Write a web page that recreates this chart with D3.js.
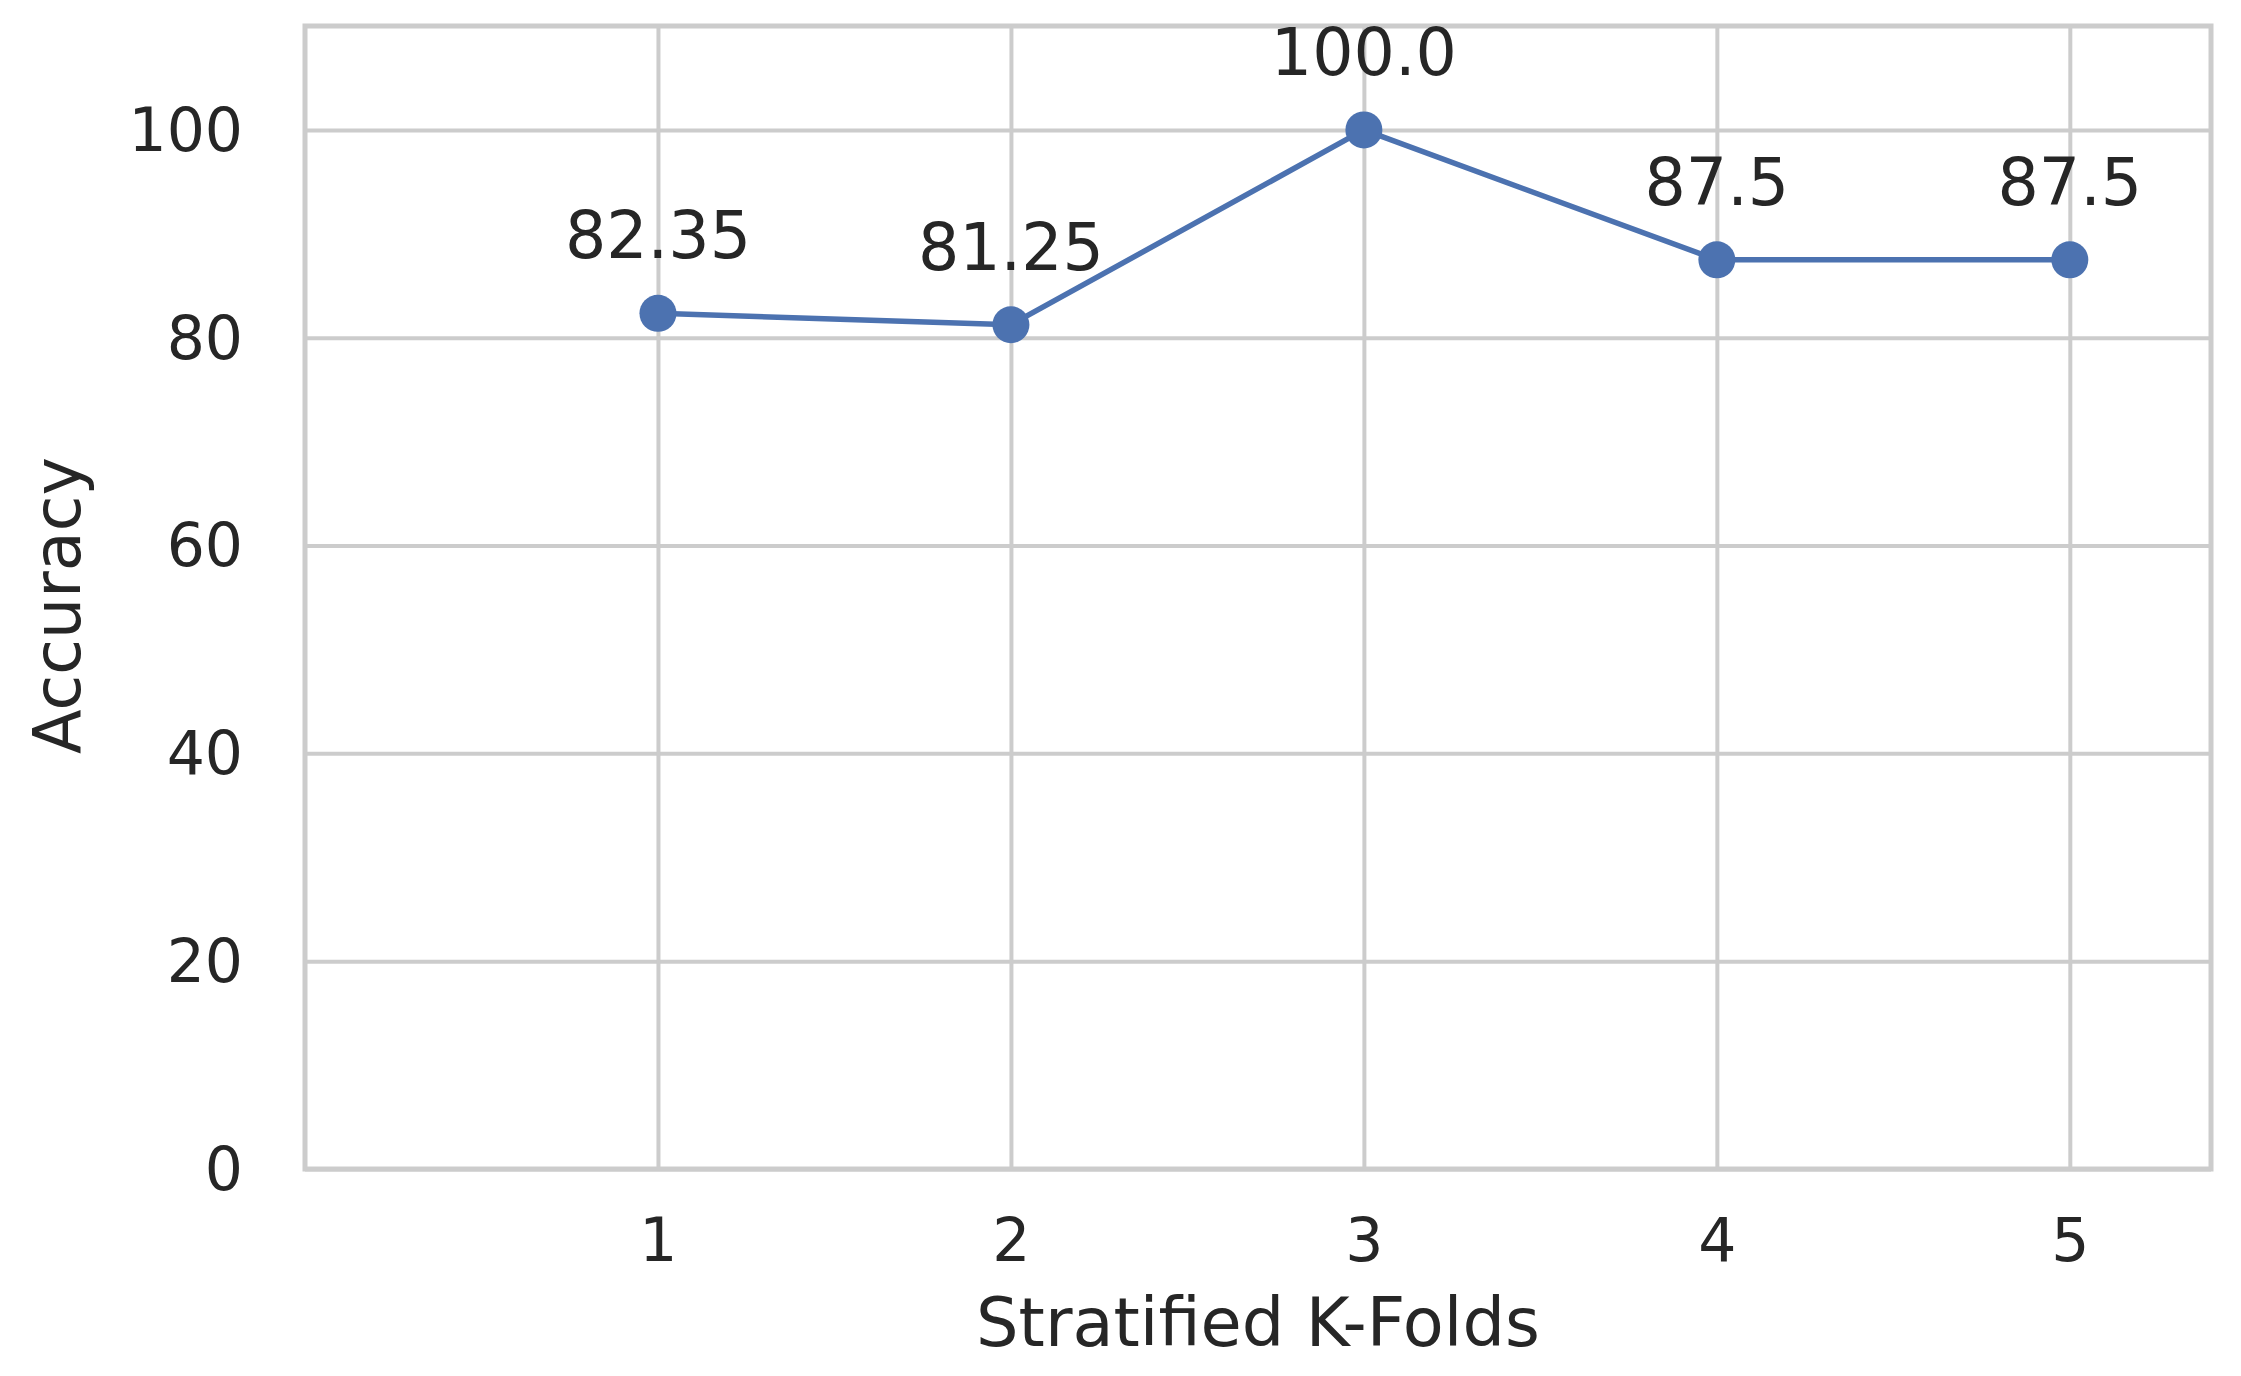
<!DOCTYPE html>
<html>
<head>
<meta charset="utf-8">
<script src="https://cdn.jsdelivr.net/npm/d3@7"></script>
<style>
  html, body { margin: 0; padding: 0; background: #ffffff; }
  svg { display: block; }
  text { font-family: "DejaVu Sans", sans-serif; fill: #262626; }
</style>
</head>
<body>
<svg id="chart" width="2241" height="1376"></svg>
<script>
const folds = [1, 2, 3, 4, 5];
const accuracy = [82.35, 81.25, 100.0, 87.5, 87.5];
const labels = ["82.35", "81.25", "100.0", "87.5", "87.5"];
const yTicks = [0, 20, 40, 60, 80, 100];
const xTicks = [1, 2, 3, 4, 5];
const xLabel = "Stratified K-Folds";
const yLabel = "Accuracy";

(function () {
const W = 2241, H = 1376;
const mLeft = 305, mRight = 2211, mTop = 26, mBottom = 1169;
const pw = mRight - mLeft, ph = mBottom - mTop;

const svg = d3.select("#chart");
svg.append("rect").attr("width", W).attr("height", H).attr("fill", "#ffffff");

const x = d3.scaleLinear().domain([0, 5.4]).range([mLeft, mRight]);
const y = d3.scaleLinear().domain([0, 110]).range([mBottom, mTop]);

const gridColor = "#cccccc";
const gridW = 4;

// Y axis with grid
const gy = svg.append("g").attr("transform", `translate(${mLeft},0)`)
  .call(d3.axisLeft(y).tickValues(yTicks).tickSize(-pw).tickPadding(62).tickFormat(d3.format("d")));
gy.select(".domain").remove();
gy.selectAll(".tick line").attr("stroke", gridColor).attr("stroke-width", gridW);
gy.selectAll(".tick text").attr("font-size", 60).attr("fill", "#262626")
  .attr("font-family", "DejaVu Sans, sans-serif").attr("dy", "0.34em");

// X axis with grid
const gx = svg.append("g").attr("transform", `translate(0,${mBottom})`)
  .call(d3.axisBottom(x).tickValues(xTicks).tickSize(-ph).tickPadding(0).tickFormat(d3.format("d")));
gx.select(".domain").remove();
gx.selectAll(".tick line").attr("stroke", gridColor).attr("stroke-width", gridW);
gx.selectAll(".tick text").attr("font-size", 60).attr("fill", "#262626")
  .attr("font-family", "DejaVu Sans, sans-serif").attr("y", 92).attr("dy", 0);

// Frame (spines)
svg.append("rect")
  .attr("x", mLeft).attr("y", mTop).attr("width", pw).attr("height", ph)
  .attr("fill", "none").attr("stroke", gridColor).attr("stroke-width", 5);

// Line
const data = folds.map((f, i) => ({ f, v: accuracy[i], t: labels[i] }));
svg.append("path").datum(data)
  .attr("fill", "none").attr("stroke", "#4c72b0").attr("stroke-width", 5.5)
  .attr("stroke-linejoin", "round")
  .attr("d", d3.line().x(d => x(d.f)).y(d => y(d.v)));

// Markers
svg.selectAll("circle.pt").data(data).enter().append("circle")
  .attr("class", "pt")
  .attr("cx", d => x(d.f)).attr("cy", d => y(d.v)).attr("r", 18.5)
  .attr("fill", "#4c72b0");

// Data labels
svg.selectAll("text.lbl").data(data).enter().append("text")
  .attr("class", "lbl")
  .attr("x", d => x(d.f)).attr("y", d => y(d.v) - 55)
  .attr("text-anchor", "middle").attr("font-size", 65)
  .text(d => d.t);

// Axis labels
svg.append("text")
  .attr("x", (mLeft + mRight) / 2).attr("y", 1346)
  .attr("text-anchor", "middle").attr("font-size", 67)
  .text(xLabel);

svg.append("text")
  .attr("transform", `translate(80,${(mTop + mBottom) / 2 + 8}) rotate(-90)`)
  .attr("text-anchor", "middle").attr("font-size", 65)
  .text(yLabel);
})();
</script>
</body>
</html>
